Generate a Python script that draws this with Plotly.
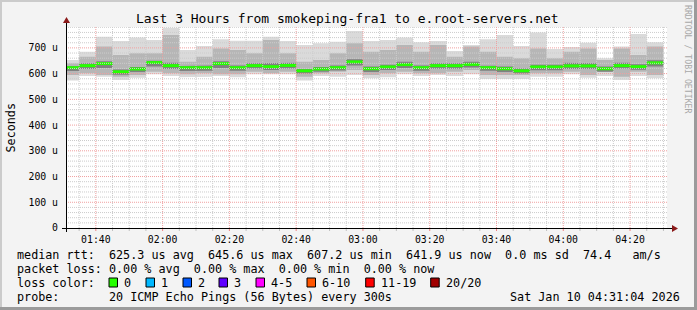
import plotly.graph_objects as go
import pandas as pd

# ---------------- data ----------------
bar_end_times = pd.date_range("2026-01-10 01:35:00", "2026-01-10 04:30:00", freq="5min")
median_us = [623, 631, 639, 607.2, 618, 643, 631, 623, 623, 639, 623, 631, 627, 632, 611, 618, 623, 645.6,
             619, 626, 635, 623, 631, 631, 636, 623, 619, 611, 626, 626, 630, 630, 619, 631, 627, 641.9]
smoke_min = [573, 591, 588, 575, 584, 598, 591, 586, 588, 591, 586, 598, 598, 598, 573, 591, 588, 595,
             582, 586, 598, 591, 595, 591, 598, 579, 579, 579, 588, 588, 598, 584, 591, 575, 591, 582]
smoke_max = [653, 685, 743, 727, 740, 731, 778, 692, 707, 734, 728, 728, 743, 727, 711, 718, 724, 766,
             727, 731, 740, 722, 727, 688, 711, 734, 750, 707, 760, 696, 703, 720, 660, 705, 754, 722]
smoke_p25 = [595, 601, 595, 588, 595, 607, 601, 598, 601, 598, 598, 607, 601, 607, 588, 601, 607, 614,
             595, 601, 607, 601, 601, 607, 614, 595, 595, 595, 601, 601, 607, 595, 607, 588, 607, 595]
smoke_p75 = [640, 666, 705, 672, 679, 679, 750, 646, 666, 698, 692, 679, 731, 679, 646, 653, 679, 718,
             685, 692, 711, 685, 711, 666, 705, 685, 666, 660, 698, 660, 685, 698, 653, 698, 672, 705]
core_lo = [610, 618, 622, 596, 606, 628, 618, 610, 611, 622, 611, 620, 614, 620, 600, 607, 612, 632,
           606, 614, 622, 611, 619, 619, 624, 611, 606, 600, 613, 613, 618, 618, 607, 620, 615, 628]
core_hi = [630, 640, 648, 616, 626, 650, 642, 630, 632, 648, 632, 640, 640, 642, 618, 626, 632, 656,
           628, 634, 646, 632, 640, 640, 646, 631, 628, 620, 634, 634, 642, 640, 628, 642, 636, 652]

y_tick_vals = [0, 100, 200, 300, 400, 500, 600, 700]
y_tick_text = ["0", "100 u", "200 u", "300 u", "400 u", "500 u", "600 u", "700 u"]

title_text = "Last 3 Hours from smokeping-fra1 to e.root-servers.net"
legend_line1 = "median rtt:  625.3 us avg  645.6 us max  607.2 us min  641.9 us now  0.0 ms sd  74.4   am/s"
legend_line2 = "packet loss: 0.00 % avg  0.00 % max  0.00 % min  0.00 % now"
legend_line4 = "probe:       20 ICMP Echo Pings (56 Bytes) every 300s"
timestamp_text = "Sat Jan 10 04:31:04 2026"
loss_labels = ["0", "1", "2", "3", "4-5", "6-10", "11-19", "20/20"]
loss_colors = ["#26ff00", "#00b8ff", "#0059ff", "#5e00ff", "#ff00ff", "#ff5500", "#ff0000", "#a10000"]

# ---------------- layout constants ----------------
W, H = 697, 310
L, R, T, B = 66, 30, 27, 82
PW, PH = W - L - R, H - T - B
X_START = pd.Timestamp("2026-01-10 01:31:04")
X_END = pd.Timestamp("2026-01-10 04:31:04")
Y_MAX = 781.2
FONT = "DejaVu Sans Mono"


def px(x):
    return (x - L) / PW


def py(y):
    return (H - B - y) / PH


step = pd.Timedelta("5min")
fig = go.Figure()


def band(lo, hi, color):
    # stepped polygon: upper edge left->right, lower edge right->left
    xs, ys = [], []
    for t, h in zip(bar_end_times, hi):
        xs += [t - step, t]
        ys += [h, h]
    for t, l in zip(reversed(list(bar_end_times)), reversed(lo)):
        xs += [t, t - step]
        ys += [l, l]
    fig.add_trace(go.Scatter(x=xs, y=ys, mode="lines", fill="toself", fillcolor=color,
                             line=dict(width=0, color=color), hoverinfo="skip", showlegend=False))


band(smoke_min, smoke_max, "#dadada")
band(smoke_p25, smoke_p75, "#b6b6b6")
band(core_lo, core_hi, "#808080")

# median segments
mx, my = [], []
for t, m in zip(bar_end_times, median_us):
    mx += [t - step, t, None]
    my += [m, m, None]
fig.add_trace(go.Scatter(x=mx, y=my, mode="lines", line=dict(color="#26ff00", width=3),
                         hoverinfo="skip", showlegend=False))

shapes = []
# grid (drawn above data like rrdtool)
for v in range(20, 781, 20):
    major = v % 100 == 0
    shapes.append(dict(type="line", xref="paper", yref="y", x0=0, x1=1, y0=v, y1=v, layer="above",
                       line=dict(color="#f0a0a0" if major else "#cccccc", width=1, dash="1px,1px")))
t = pd.Timestamp("2026-01-10 01:35:00")
while t <= X_END:
    major = t.minute % 20 == 0
    shapes.append(dict(type="line", xref="x", yref="paper", x0=t, x1=t, y0=0, y1=1, layer="above",
                       line=dict(color="#f0a0a0" if major else "#cccccc", width=1, dash="1px,1px")))
    shapes.append(dict(type="line", xref="x", yref="paper", x0=t, x1=t, y0=py(228), y1=py(231),
                       layer="above", line=dict(color="#f08080" if major else "#c0c0c0", width=1)))
    t += step

# axes with arrows
shapes.append(dict(type="line", xref="paper", yref="paper", x0=px(62), x1=px(673), y0=py(228.5), y1=py(228.5),
                   line=dict(color="black", width=1), layer="above"))
shapes.append(dict(type="line", xref="paper", yref="paper", x0=px(66.5), x1=px(66.5), y0=py(232), y1=py(23),
                   line=dict(color="black", width=1), layer="above"))
shapes.append(dict(type="path", xref="paper", yref="paper", layer="above",
                   path=f"M {px(672)} {py(225)} L {px(678)} {py(228.5)} L {px(672)} {py(232)} Z",
                   fillcolor="#8b1a1a", line=dict(width=0)))
shapes.append(dict(type="path", xref="paper", yref="paper", layer="above",
                   path=f"M {px(63)} {py(23)} L {px(66.5)} {py(17)} L {px(70)} {py(23)} Z",
                   fillcolor="#8b1a1a", line=dict(width=0)))

# frame (3D shade)
shapes.append(dict(type="rect", xref="paper", yref="paper", x0=px(0), x1=px(697), y0=py(0), y1=py(2),
                   fillcolor="#cbcbcb", line=dict(width=0)))
shapes.append(dict(type="rect", xref="paper", yref="paper", x0=px(0), x1=px(2), y0=py(0), y1=py(310),
                   fillcolor="#cbcbcb", line=dict(width=0)))
shapes.append(dict(type="rect", xref="paper", yref="paper", x0=px(694), x1=px(697), y0=py(0), y1=py(310),
                   fillcolor="#9b9b9b", line=dict(width=0)))
shapes.append(dict(type="rect", xref="paper", yref="paper", x0=px(0), x1=px(697), y0=py(307), y1=py(310),
                   fillcolor="#9b9b9b", line=dict(width=0)))

annotations = []


def text(x, y, s, size, anchor="left", color="#000000", angle=0):
    annotations.append(dict(x=px(x), y=py(y), xref="paper", yref="paper", text=s, showarrow=False,
                            xanchor=anchor, yanchor="middle", borderpad=0, textangle=angle,
                            font=dict(family=FONT, size=size, color=color)))


text(347.4, 18.5, title_text, 13, anchor="center")
text(10, 127.5, "Seconds", 11.75, anchor="center", angle=-90)
text(688, 59, "RRDTOOL / TOBI OETIKER", 8.2, anchor="center", color="#a8a8a8", angle=90)

text(16, 254.5, legend_line1.replace(" ", "&nbsp;"), 11.75)
text(16, 268.5, legend_line2.replace(" ", "&nbsp;"), 11.75)
text(16, 282.5, "loss&nbsp;color:", 11.75)
text(16, 296.5, legend_line4.replace(" ", "&nbsp;"), 11.75)
text(681, 296.5, timestamp_text.replace(" ", "&nbsp;"), 11.75, anchor="right")

box_x = [109, 146, 183, 219, 256, 307, 365.7, 430.7]
for bx, lab, col in zip(box_x, loss_labels, loss_colors):
    shapes.append(dict(type="rect", xref="paper", yref="paper", x0=px(bx), x1=px(bx + 8.5),
                       y0=py(278), y1=py(287), fillcolor=col, line=dict(color="black", width=1)))
    text(bx + 14, 282.5, lab, 11.75)

fig.update_layout(
    width=W, height=H, margin=dict(l=L, r=R, t=T, b=B, pad=0, autoexpand=False),
    paper_bgcolor="#f3f3f3", plot_bgcolor="#ffffff",
    showlegend=False,
    shapes=shapes, annotations=annotations,
    font=dict(family=FONT, color="#000000"),
    xaxis=dict(range=[X_START, X_END], type="date", showgrid=False, zeroline=False, showline=False,
               automargin=False,
               tickmode="linear", tick0="2026-01-10 00:00:00", dtick=20 * 60 * 1000,
               tickformat="%H:%M", ticks="", ticklabelstandoff=4,
               tickfont=dict(family=FONT, size=9.8, color="#000000")),
    yaxis=dict(range=[0, Y_MAX], showgrid=False, zeroline=False, showline=False, automargin=False,
               tickmode="array", tickvals=y_tick_vals, ticktext=y_tick_text, ticks="",
               ticklabelstandoff=7, tickfont=dict(family=FONT, size=9.8, color="#000000")),
)

fig.write_html("out.html")
